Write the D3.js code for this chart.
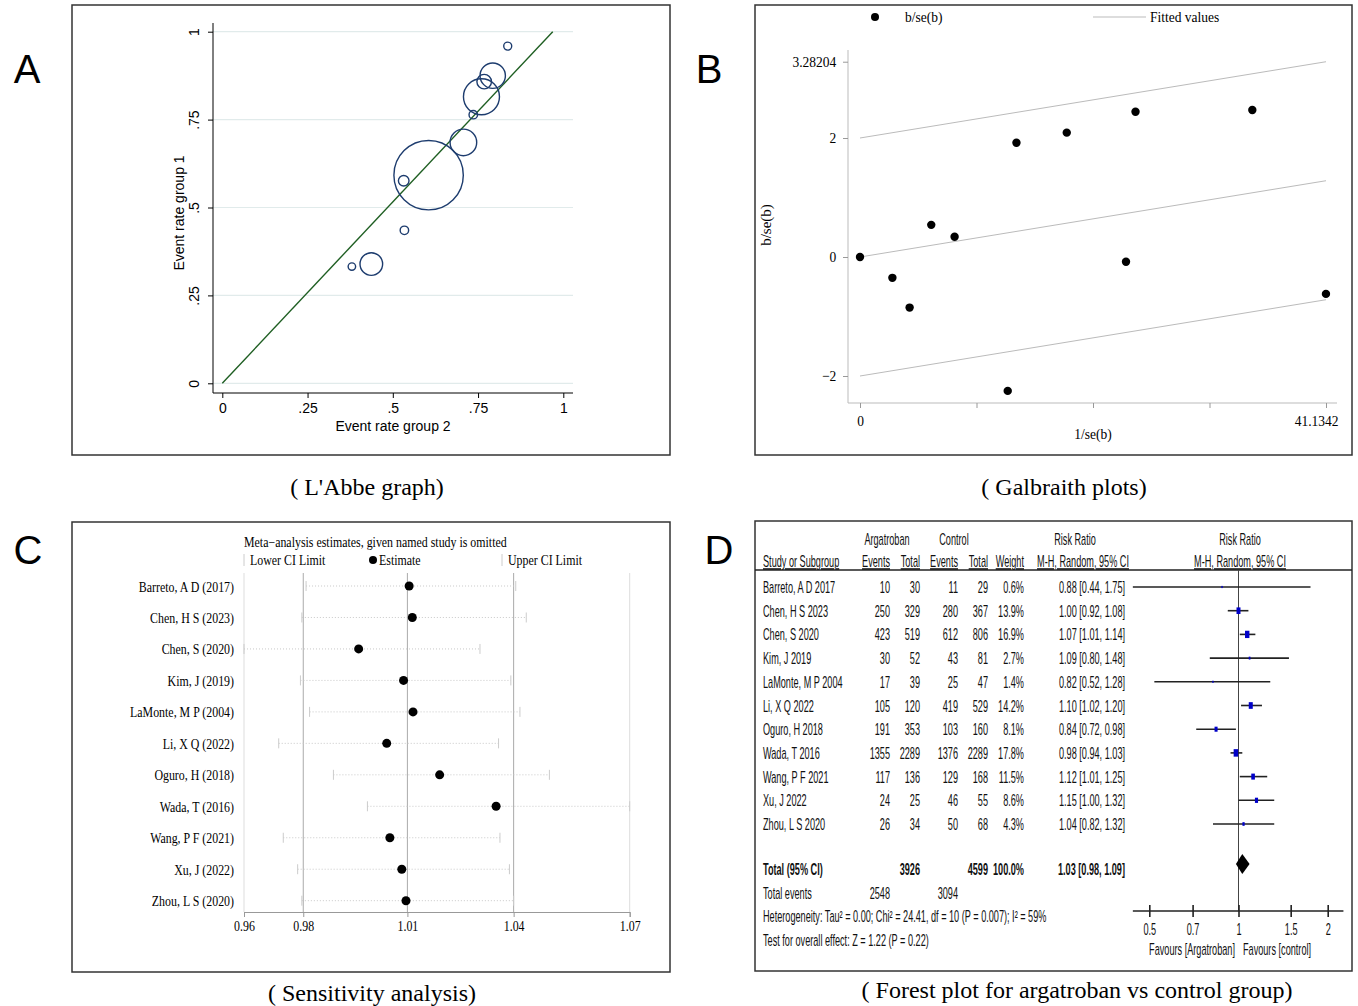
<!DOCTYPE html>
<html>
<head>
<meta charset="utf-8">
<script src="https://cdn.jsdelivr.net/npm/d3@7"></script>
<style>
body{margin:0;background:#fff}
svg{display:block}
</style>
</head>
<body>
<div class="chart"></div>
<script>
// A: L'Abbe graph (event rate group 2 vs group 1, bubble = weight)
var labbeX = [0.837, 0.793, 0.768, 0.760, 0.736, 0.707, 0.605, 0.532, 0.534, 0.437, 0.380];
var labbeY = [0.959, 0.875, 0.858, 0.815, 0.764, 0.685, 0.592, 0.576, 0.435, 0.339, 0.332];
var labbeW = [16, 161, 53, 324, 18, 177, 1204, 28, 18, 128, 14];
var labbeLine = [{x:0, y:0}, {x:0.969, y:1}];
var labbeTicks = [0, 0.25, 0.5, 0.75, 1];
var labbeTickLabels = ["0", ".25", ".5", ".75", "1"];

// B: Galbraith
var galX = [0, 2.86, 4.38, 6.29, 8.35, 13.04, 13.81, 18.25, 23.48, 24.32, 34.63, 41.13];
var galY = [0, -0.35, -0.85, 0.54, 0.34, -2.25, 1.92, 2.09, -0.08, 2.44, 2.47, -0.62];
var galFitX = [0, 41.1342];
var galFitY = [0, 1.28204];
var galBand = [-2, 0, 2];
var galYTicks = [-2, 0, 2, 3.28204];
var galYLabels = ["\u22122", "0", "2", "3.28204"];
var galXTicks = [0, 10.28355, 20.5671, 30.85065, 41.1342];
var galXLabels = ["0", "", "", "", "41.1342"];

// C: sensitivity analysis
var sensStudies = ["Barreto, A D (2017)", "Chen, H S (2023)", "Chen, S (2020)", "Kim, J (2019)", "LaMonte, M P (2004)",
  "Li, X Q (2022)", "Oguro, H (2018)", "Wada, T (2016)", "Wang, P F (2021)", "Xu, J (2022)", "Zhou, L S (2020)"];
var sensLo  = [0.9777, 0.9765, 0.9600, 0.9761, 0.9787, 0.9699, 0.9855, 0.9952, 0.9712, 0.9753, 0.9765];
var sensEst = [1.0071, 1.0080, 0.9927, 1.0055, 1.0082, 1.0007, 1.0158, 1.0319, 1.0016, 1.0050, 1.0062];
var sensHi  = [1.0375, 1.0405, 1.0273, 1.0361, 1.0387, 1.0326, 1.0471, 1.0700, 1.0330, 1.0357, 1.0369];
var sensTicks = [0.96, 0.9769, 1.0066, 1.0369, 1.07];

// D: forest plot
var studies = ["Barreto, A D 2017", "Chen, H S 2023", "Chen, S 2020", "Kim, J 2019", "LaMonte, M P 2004", "Li, X Q 2022",
  "Oguro, H 2018", "Wada, T 2016", "Wang, P F 2021", "Xu, J 2022", "Zhou, L S 2020"];
var argEvents = [10, 250, 423, 30, 17, 105, 191, 1355, 117, 24, 26];
var argTotal  = [30, 329, 519, 52, 39, 120, 353, 2289, 136, 25, 34];
var ctlEvents = [11, 280, 612, 43, 25, 419, 103, 1376, 129, 46, 50];
var ctlTotal  = [29, 367, 806, 81, 47, 529, 160, 2289, 168, 55, 68];
var weights   = [0.6, 13.9, 16.9, 2.7, 1.4, 14.2, 8.1, 17.8, 11.5, 8.6, 4.3];
var rr   = [0.88, 1.00, 1.07, 1.09, 0.82, 1.10, 0.84, 0.98, 1.12, 1.15, 1.04];
var rrLo = [0.44, 0.92, 1.01, 0.80, 0.52, 1.02, 0.72, 0.94, 1.01, 1.00, 0.82];
var rrHi = [1.75, 1.08, 1.14, 1.48, 1.28, 1.20, 0.98, 1.03, 1.25, 1.32, 1.32];
var total = {arg:3926, ctl:4599, w:"100.0%", rr:1.03, lo:0.98, hi:1.09};
var totalEvents = [2548, 3094];
var hetText = "Heterogeneity: Tau\u00b2 = 0.00; Chi\u00b2 = 24.41, df = 10 (P = 0.007); I\u00b2 = 59%";
var effText = "Test for overall effect: Z = 1.22 (P = 0.22)";
var forestTicks = [0.5, 0.7, 1, 1.5, 2];
var forestTickLabels = ["0.5", "0.7", "1", "1.5", "2"];
var forestExtent = [0.44, 2.26];

var SANS = "'Liberation Sans', Arial, sans-serif";
var SERIF = "'Liberation Serif', 'Times New Roman', serif";

var svg = d3.select("div.chart").append("svg").attr("width", 1358).attr("height", 1006);
svg.append("rect").attr("width", 1358).attr("height", 1006).attr("fill", "#fff");

function txt(g, x, y, s, o) {
  o = o || {};
  var tr = "translate(" + x + "," + y + ")";
  if (o.rot) tr += " rotate(" + o.rot + ")";
  if (o.sx) tr += " scale(" + o.sx + ",1)";
  var t = g.append("text").attr("transform", tr)
    .attr("text-anchor", o.anchor || "start")
    .attr("font-family", o.font || SANS)
    .attr("font-size", o.size || 14)
    .attr("fill", o.fill || "#000")
    .text(s);
  if (o.bold) t.attr("font-weight", "bold");
  if (o.under) t.style("text-decoration", "underline");
  return t;
}

// frames, panel letters and captions
var frames = [[72, 5, 598, 450], [755, 5, 597, 450], [72, 522, 598, 450], [755, 521, 597, 450]];
frames.forEach(function(f) {
  svg.append("rect").attr("x", f[0]).attr("y", f[1]).attr("width", f[2]).attr("height", f[3])
    .attr("fill", "none").attr("stroke", "#333").attr("stroke-width", 1.5);
});
txt(svg, 27, 83, "A", {size: 40, anchor: "middle"});
txt(svg, 709, 83, "B", {size: 40, anchor: "middle"});
txt(svg, 28, 564, "C", {size: 40, anchor: "middle"});
txt(svg, 719, 564, "D", {size: 40, anchor: "middle"});
txt(svg, 367, 495, "( L'Abbe graph)", {size: 24, font: SERIF, anchor: "middle"});
txt(svg, 1064, 495, "( Galbraith plots)", {size: 24, font: SERIF, anchor: "middle"});
txt(svg, 372, 1001, "( Sensitivity analysis)", {size: 24, font: SERIF, anchor: "middle"});
txt(svg, 1077, 998, "( Forest plot for argatroban vs control group)", {size: 24, font: SERIF, anchor: "middle"});

// ---------------- A ----------------
var gA = svg.append("g");
var xA = d3.scaleLinear().domain([0, 1]).range([222.3, 563.3]);
var yA = d3.scaleLinear().domain([0, 1]).range([383.3, 31.7]);
var rA = d3.scaleSqrt().domain([0, d3.max(labbeW)]).range([0, 34.7]);

gA.selectAll("line.grid").data(labbeTicks).enter().append("line")
  .attr("x1", 213).attr("x2", 573)
  .attr("y1", function(d) { return yA(d); }).attr("y2", function(d) { return yA(d); })
  .attr("stroke", "#e1ebeb").attr("stroke-width", 1.2);

var axA = gA.append("g").attr("transform", "translate(0,393)")
  .call(d3.axisBottom(xA).tickValues(labbeTicks).tickSize(5).tickPadding(5)
    .tickFormat(function(d, i) { return labbeTickLabels[i]; }));
var ayA = gA.append("g").attr("transform", "translate(213,0)")
  .call(d3.axisLeft(yA).tickValues(labbeTicks).tickSize(5)
    .tickFormat(function(d, i) { return labbeTickLabels[i]; }));
[axA, ayA].forEach(function(a) {
  a.select(".domain").remove();
  a.selectAll("text").attr("font-family", SANS).attr("font-size", 14).attr("fill", "#000");
  a.selectAll("line").attr("stroke", "#000");
});
ayA.selectAll("text").attr("x", 0).attr("dy", 0).attr("text-anchor", "middle")
  .attr("transform", "translate(-14,0) rotate(-90)");
gA.append("line").attr("x1", 213).attr("x2", 213).attr("y1", 23).attr("y2", 393).attr("stroke", "#000");
gA.append("line").attr("x1", 213).attr("x2", 573).attr("y1", 393).attr("y2", 393).attr("stroke", "#000");

gA.append("path").attr("d", d3.line().x(function(d) { return xA(d.x); }).y(function(d) { return yA(d.y); })(labbeLine))
  .attr("stroke", "#1e5e22").attr("stroke-width", 1.4).attr("fill", "none");

gA.selectAll("circle").data(labbeX).enter().append("circle")
  .attr("cx", function(d) { return xA(d); })
  .attr("cy", function(d, i) { return yA(labbeY[i]); })
  .attr("r", function(d, i) { return rA(labbeW[i]); })
  .attr("fill", "none").attr("stroke", "#1d3c6e").attr("stroke-width", 1.4);

txt(gA, 393, 431, "Event rate group 2", {size: 14, anchor: "middle"});
txt(gA, 184, 213, "Event rate group 1", {size: 14, anchor: "middle", rot: -90});

// ---------------- B ----------------
var gB = svg.append("g");
var xB = d3.scaleLinear().domain([0, 41.1342]).range([860, 1326]);
var yB = d3.scaleLinear().domain([0, 2]).range([257, 138]);
var SXB = 0.9;

gB.append("line").attr("x1", 848).attr("x2", 848).attr("y1", 50).attr("y2", 403).attr("stroke", "#bbb");
gB.append("line").attr("x1", 848).attr("x2", 1337).attr("y1", 403).attr("y2", 403).attr("stroke", "#bbb");
var ayB = gB.append("g").attr("transform", "translate(848,0)")
  .call(d3.axisLeft(yB).tickValues(galYTicks).tickSize(5).tickPadding(8)
    .tickFormat(function(d, i) { return galYLabels[i]; }));
var axB = gB.append("g").attr("transform", "translate(0,403)")
  .call(d3.axisBottom(xB).tickValues(galXTicks).tickSize(5).tickPadding(7)
    .tickFormat(function(d, i) { return galXLabels[i]; }));
[axB, ayB].forEach(function(a) {
  a.select(".domain").remove();
  a.selectAll("line").attr("stroke", "#999");
  a.selectAll("text").attr("font-family", SERIF).attr("font-size", 15).attr("fill", "#000")
    .attr("transform", "scale(" + SXB + ",1)");
});
axB.selectAll("text").filter(function(d) { return d === 41.1342; }).attr("dx", -11);

galBand.forEach(function(off) {
  gB.append("path")
    .attr("d", d3.line().x(function(d) { return xB(d); })
      .y(function(d, i) { return yB(galFitY[i] + off); })(galFitX))
    .attr("stroke", "#bbb").attr("stroke-width", 1).attr("fill", "none");
});

gB.selectAll("circle.pt").data(galX).enter().append("circle")
  .attr("cx", function(d) { return xB(d); })
  .attr("cy", function(d, i) { return yB(galY[i]); })
  .attr("r", 4.2).attr("fill", "#000");

gB.append("circle").attr("cx", 875).attr("cy", 17).attr("r", 4).attr("fill", "#000");
txt(gB, 905, 22, "b/se(b)", {font: SERIF, size: 15, sx: SXB});
gB.append("line").attr("x1", 1093).attr("x2", 1146).attr("y1", 17).attr("y2", 17).attr("stroke", "#bbb");
txt(gB, 1150, 22, "Fitted values", {font: SERIF, size: 15, sx: SXB});
txt(gB, 1093, 439, "1/se(b)", {font: SERIF, size: 15, sx: SXB, anchor: "middle"});
txt(gB, 771, 225, "b/se(b)", {font: SERIF, size: 15, anchor: "middle", rot: -90});

// ---------------- C ----------------
var gC = svg.append("g");
var xC = d3.scaleLinear().domain([0.96, 1.07]).range([244, 629.7]);
var yC = d3.scalePoint().domain(sensStudies).range([586, 900.7]);
var SXC = 0.85;

txt(gC, 244, 547, "Meta\u2212analysis estimates, given named study is omitted", {font: SERIF, size: 14, sx: SXC});
gC.append("line").attr("x1", 244).attr("x2", 244).attr("y1", 554).attr("y2", 566).attr("stroke", "#ccc");
txt(gC, 250, 565, "Lower CI Limit", {font: SERIF, size: 14, sx: SXC});
gC.append("circle").attr("cx", 373).attr("cy", 560).attr("r", 4).attr("fill", "#000");
txt(gC, 379, 565, "Estimate", {font: SERIF, size: 14, sx: SXC});
gC.append("line").attr("x1", 502).attr("x2", 502).attr("y1", 554).attr("y2", 566).attr("stroke", "#ccc");
txt(gC, 508, 565, "Upper CI Limit", {font: SERIF, size: 14, sx: SXC});

gC.selectAll("line.ref").data(sensTicks).enter().append("line")
  .attr("x1", function(d) { return xC(d); }).attr("x2", function(d) { return xC(d); })
  .attr("y1", 573).attr("y2", 912)
  .attr("stroke", function(d, i) { return (i === 0 || i === 4) ? "#ddd" : "#aaa"; })
  .attr("stroke-width", 1);

var axC = gC.append("g").attr("transform", "translate(0,912)")
  .call(d3.axisBottom(xC).tickValues(sensTicks).tickSize(5).tickPadding(4).tickFormat(d3.format(".2f")));
axC.select(".domain").attr("stroke", "#999");
axC.selectAll("line").attr("stroke", "#999");
axC.selectAll("text").attr("font-family", SERIF).attr("font-size", 14).attr("fill", "#000")
  .attr("transform", "scale(" + SXC + ",1)");

var rowsC = gC.selectAll("g.row").data(sensStudies).enter().append("g")
  .attr("transform", function(d) { return "translate(0," + yC(d) + ")"; });
rowsC.append("line")
  .attr("x1", function(d, i) { return xC(sensLo[i]); }).attr("x2", function(d, i) { return xC(sensHi[i]); })
  .attr("stroke", "#c8c8c8").attr("stroke-dasharray", "1,2");
rowsC.append("line")
  .attr("x1", function(d, i) { return xC(sensLo[i]); }).attr("x2", function(d, i) { return xC(sensLo[i]); })
  .attr("y1", -5).attr("y2", 5).attr("stroke", "#ccc");
rowsC.append("line")
  .attr("x1", function(d, i) { return xC(sensHi[i]); }).attr("x2", function(d, i) { return xC(sensHi[i]); })
  .attr("y1", -5).attr("y2", 5).attr("stroke", "#ccc");
rowsC.append("circle")
  .attr("cx", function(d, i) { return xC(sensEst[i]); })
  .attr("r", 4.5).attr("fill", "#000");
rowsC.each(function(d) {
  txt(d3.select(this), 234, 5.5, d, {font: SERIF, size: 14, sx: SXC, anchor: "end"});
});

// ---------------- D ----------------
var gD = svg.append("g");
var SXD = 0.572, FD = 16;
var xD = d3.scaleLog().domain([0.5, 2]).range([1149.3, 1327.7]);
var yD = d3.scalePoint().domain(studies).range([587, 824]);
var sD = d3.scaleSqrt().domain([0, d3.max(weights)]).range([0, 7.5]);
var colRight = [890, 920, 958, 988, 1024];

function dt(x, y, s, o) {
  o = o || {};
  o.sx = SXD; o.size = FD; o.fill = "#111";
  return txt(gD, x, y, s, o);
}

dt(887, 545, "Argatroban", {anchor: "middle"});
dt(954, 545, "Control", {anchor: "middle"});
dt(1075, 545, "Risk Ratio", {anchor: "middle"});
dt(1240, 545, "Risk Ratio", {anchor: "middle"});
dt(763, 567, "Study or Subgroup", {under: true});
["Events", "Total", "Events", "Total", "Weight"].forEach(function(h, i) {
  dt(colRight[i], 567, h, {anchor: "end", under: true});
});
dt(1083, 567, "M-H, Random, 95% CI", {anchor: "middle", under: true});
dt(1240, 567, "M-H, Random, 95% CI", {anchor: "middle", under: true});
gD.append("line").attr("x1", 755).attr("x2", 1352).attr("y1", 570).attr("y2", 570)
  .attr("stroke", "#222").attr("stroke-width", 1.5);

var fmt2 = d3.format(".2f");
studies.forEach(function(s, i) {
  var y = yD(s) + 6;
  dt(763, y, s);
  [argEvents[i], argTotal[i], ctlEvents[i], ctlTotal[i], weights[i].toFixed(1) + "%"].forEach(function(v, j) {
    dt(colRight[j], y, v, {anchor: "end"});
  });
  dt(1125, y, fmt2(rr[i]) + " [" + fmt2(rrLo[i]) + ", " + fmt2(rrHi[i]) + "]", {anchor: "end"});
});

var yTot = 869;
dt(763, yTot + 6, "Total (95% CI)", {bold: true});
dt(colRight[1], yTot + 6, total.arg, {anchor: "end", bold: true});
dt(colRight[3], yTot + 6, total.ctl, {anchor: "end", bold: true});
dt(colRight[4], yTot + 6, total.w, {anchor: "end", bold: true});
dt(1125, yTot + 6, fmt2(total.rr) + " [" + fmt2(total.lo) + ", " + fmt2(total.hi) + "]", {anchor: "end", bold: true});
dt(763, 899, "Total events");
dt(colRight[0], 899, totalEvents[0], {anchor: "end"});
dt(colRight[2], 899, totalEvents[1], {anchor: "end"});
dt(763, 922, hetText);
dt(763, 946, effText);

// plot area
gD.append("line").attr("x1", xD(1)).attr("x2", xD(1)).attr("y1", 570).attr("y2", 911)
  .attr("stroke", "#444").attr("stroke-width", 1);
var rowsD = gD.selectAll("g.frow").data(studies).enter().append("g")
  .attr("transform", function(d) { return "translate(0," + yD(d) + ")"; });
rowsD.append("line")
  .attr("x1", function(d, i) { return xD(Math.max(rrLo[i], forestExtent[0])); })
  .attr("x2", function(d, i) { return xD(Math.min(rrHi[i], forestExtent[1])); })
  .attr("stroke", "#222").attr("stroke-width", 1.6);
rowsD.append("rect")
  .attr("x", function(d, i) { return xD(rr[i]) - Math.max(sD(weights[i]), 2.2) * 0.3; })
  .attr("y", function(d, i) { return -Math.max(sD(weights[i]), 2.2) / 2; })
  .attr("width", function(d, i) { return Math.max(sD(weights[i]), 2.2) * 0.6; })
  .attr("height", function(d, i) { return Math.max(sD(weights[i]), 2.2); })
  .attr("fill", "#0000c8");

var yDia = 864;
gD.append("path")
  .attr("d", "M" + xD(total.lo) + "," + yDia + "L" + xD(total.rr) + "," + (yDia - 10) +
    "L" + xD(total.hi) + "," + yDia + "L" + xD(total.rr) + "," + (yDia + 10) + "Z")
  .attr("fill", "#000");

gD.append("line").attr("x1", xD(forestExtent[0])).attr("x2", xD(forestExtent[1]))
  .attr("y1", 911).attr("y2", 911).attr("stroke", "#222").attr("stroke-width", 1.6);
var axD = gD.append("g").attr("transform", "translate(0,905)")
  .call(d3.axisBottom(xD).tickValues(forestTicks).tickSize(12).tickPadding(7)
    .tickFormat(function(d, i) { return forestTickLabels[i]; }));
axD.select(".domain").remove();
axD.selectAll("line").attr("stroke", "#222").attr("stroke-width", 1.6);
axD.selectAll("text").attr("font-family", SANS).attr("font-size", FD).attr("fill", "#111")
  .attr("transform", "scale(" + SXD + ",1)");
dt(1192, 955, "Favours [Argatroban]", {anchor: "middle"});
dt(1277, 955, "Favours [control]", {anchor: "middle"});
</script>
</body>
</html>
